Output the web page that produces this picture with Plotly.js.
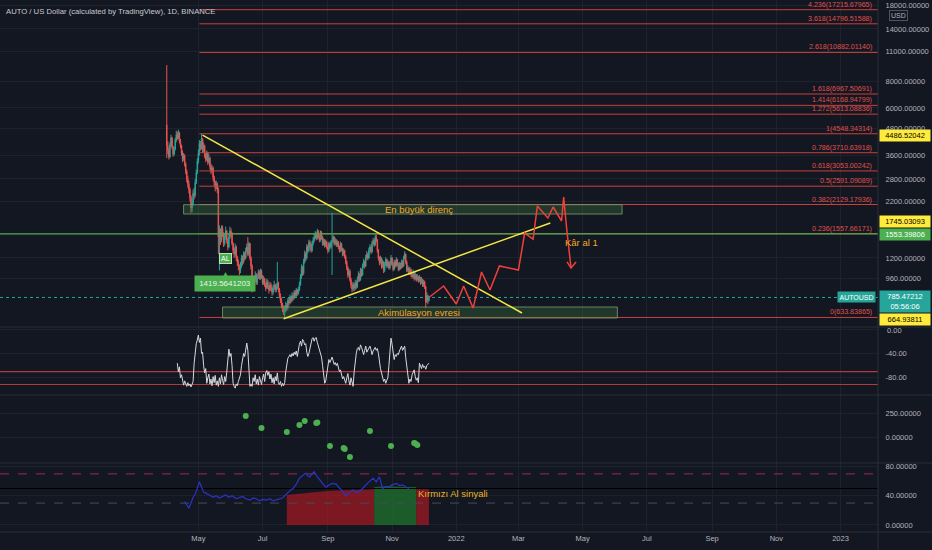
<!DOCTYPE html>
<html><head><meta charset="utf-8">
<script src="https://cdn.plot.ly/plotly-3.0.1.min.js"></script>
<style>html,body{margin:0;padding:0;background:#131722;}#c{width:932px;height:550px;}</style>
</head><body><div id="c"></div>
<script>
// ---------- DATA ----------
const startDate = '2021-04-01';
const candleOpen = [
5000,4000,3800,3550,4050,4350,3950,3650,3850,4250,
4500,4350,4600,4200,4000,3700,3450,3600,3300,3050,
2800,2650,2500,2300,2050,2150,2400,2350,2700,3000,
3400,3700,4100,3900,4300,3800,4000,3600,3450,3700,
3350,3500,3200,3050,3150,2850,2700,2550,2650,2500,
1500,1600,1450,1650,1550,1400,1500,1600,1450,1350,
1500,1600,1550,1400,1300,1250,1350,1200,1150,1100,
1050,1100,1200,1150,1250,1200,1300,1350,1250,1400,
1200,1100,950,880,950,1000,920,980,1030,970,
1040,980,920,960,900,870,930,880,850,900,
860,830,870,900,850,880,920,850,800,760,
720,700,680,690,720,700,760,740,790,760,
800,780,830,800,850,820,850,900,980,1080,
1020,1150,1250,1200,1350,1300,1420,1380,1300,1400,
1450,1500,1550,1480,1600,1520,1450,1580,1500,1400,
1450,1380,1420,1350,1300,1400,1350,1420,1450,1500,
1400,1450,1380,1420,1350,1300,1400,1320,1250,1300,
1220,1150,1080,1000,1040,950,900,860,900,870,
920,880,950,1000,950,1050,1000,1100,1150,1100,
1200,1250,1200,1300,1350,1280,1400,1450,1380,1500,
1450,1300,1200,1150,1200,1100,1150,1050,1120,1180,
1100,1150,1080,1130,1200,1120,1060,1150,1100,1180,
1120,1060,1120,1080,1150,1100,1200,1250,1150,1050,
1080,1020,1060,1000,980,1030,960,1000,950,980,
940,970,920,950,900,930,880,750,800,760];
const candleHigh = [
9500,4200,3900,4150,4500,4400,4000,3950,4350,4700,
4650,4750,4650,4300,4050,3800,3700,3650,3350,3100,
2900,2750,2550,2350,2250,2500,2550,2800,3100,3500,
3850,4250,4200,4548,4350,4150,4050,3700,3800,3750,
3650,3550,3300,3250,3200,2900,2750,2750,2700,2550,
1700,1650,1700,1700,1580,1560,1680,1620,1480,1560,
1680,1650,1580,1420,1340,1400,1370,1230,1180,1120,
1150,1240,1230,1290,1280,1340,1400,1500,1430,1410,
1220,1120,970,980,1040,1020,1010,1060,1050,1070,
1060,1000,990,970,920,960,950,900,930,920,
880,900,940,910,910,1150,930,870,820,780,
740,720,720,750,740,780,780,810,800,830,
820,850,850,870,860,880,930,1010,1120,1100,
1190,1300,1280,1390,1380,1460,1450,1400,1440,1500,
1550,1600,1580,1640,1620,1540,1610,1600,1520,1480,
1470,1460,1440,1370,1430,1420,1450,1950,1540,1520,
1490,1470,1450,1440,1370,1430,1410,1340,1330,1310,
1240,1170,1100,1070,1060,970,920,930,920,950,
940,980,1040,1020,1080,1070,1130,1190,1170,1240,
1290,1270,1340,1390,1370,1440,1490,1470,1540,1540,
1470,1320,1220,1230,1210,1180,1160,1150,1210,1190,
1180,1160,1160,1240,1210,1140,1180,1170,1210,1190,
1140,1150,1140,1180,1170,1230,1290,1260,1170,1110,
1090,1090,1070,1020,1060,1040,1030,1010,1010,990,
1000,980,980,960,950,940,890,830,810,800];
const candleLow = [
3500,3650,3450,3500,3950,3850,3550,3600,3800,4150,
4250,4300,4100,3900,3600,3350,3400,3200,2950,2700,
2550,2400,2200,1950,1960,2100,2250,2300,2650,2950,
3300,3600,3800,3850,3700,3700,3500,3350,3400,3250,
3300,3100,2950,3000,2750,2600,2450,2500,2400,1250,
1050,1380,1420,1500,1350,1370,1460,1400,1300,1330,
1470,1500,1370,1250,1200,1220,1160,1100,1050,1000,
1020,1080,1110,1130,1170,1180,1270,1220,1230,1170,
1060,830,840,860,930,900,900,960,950,950,
960,900,900,880,840,860,860,820,840,840,
800,810,850,830,830,860,830,780,740,700,
670,650,634,670,680,690,720,730,740,750,
760,770,780,790,800,810,840,890,960,990,
1000,1130,1160,1180,1260,1280,1340,1270,1280,1370,
1420,1470,1450,1460,1480,1420,1430,1460,1370,1370,
1340,1350,1320,1260,1280,1320,1330,1000,1420,1370,
1380,1350,1350,1320,1270,1280,1290,1220,1230,1190,
1120,1050,970,980,930,870,830,840,840,850,
860,870,930,930,940,980,990,1080,1070,1090,
1180,1170,1190,1280,1250,1270,1380,1350,1370,1420,
1270,1170,1110,1130,1070,1080,1020,1030,1100,1080,
1080,1060,1060,1110,1100,1040,1050,1080,1090,1100,
1040,1050,1060,1070,1080,1090,1180,1120,1030,1030,
1000,1000,980,960,970,940,950,930,940,920,
930,900,910,880,880,860,700,740,730,750];
const candleClose = [
4000,3800,3550,4050,4350,3950,3650,3850,4250,4500,
4350,4600,4200,4000,3700,3450,3600,3300,3050,2800,
2650,2500,2300,2050,2150,2400,2350,2700,3000,3400,
3700,4100,3900,4300,3800,4000,3600,3450,3700,3350,
3500,3200,3050,3150,2850,2700,2550,2650,2500,1500,
1600,1450,1650,1550,1400,1500,1600,1450,1350,1500,
1600,1550,1400,1300,1250,1350,1200,1150,1100,1050,
1100,1200,1150,1250,1200,1300,1350,1250,1400,1200,
1100,950,880,950,1000,920,980,1030,970,1040,
980,920,960,900,870,930,880,850,900,860,
830,870,900,850,880,920,850,800,760,720,
700,680,690,720,700,760,740,790,760,800,
780,830,800,850,820,850,900,980,1080,1020,
1150,1250,1200,1350,1300,1420,1380,1300,1400,1450,
1500,1550,1480,1600,1520,1450,1580,1500,1400,1450,
1380,1420,1350,1300,1400,1350,1420,1450,1500,1400,
1450,1380,1420,1350,1300,1400,1320,1250,1300,1220,
1150,1080,1000,1040,950,900,860,900,870,920,
880,950,1000,950,1050,1000,1100,1150,1100,1200,
1250,1200,1300,1350,1280,1400,1450,1380,1500,1450,
1300,1200,1150,1200,1100,1150,1050,1120,1180,1100,
1150,1080,1130,1200,1120,1060,1150,1100,1180,1120,
1060,1120,1080,1150,1100,1200,1250,1150,1050,1080,
1020,1060,1000,980,1030,960,1000,950,980,940,
970,920,950,900,930,880,750,800,760,785];

// Fibonacci levels
const fibRatios = ['4.236','3.618','2.618','1.618','1.414','1.272','1','0.786','0.618','0.5','0.382','0.236','0'];
const fibPrices = [17215.67965,14796.51588,10882.01140,6967.50691,6168.94799,5613.08836,4548.34314,3710.63918,3053.00242,2591.09089,2129.17936,1557.66171,633.83865];
const fibStartDay = 31;

// Drawn lines (day offsets from startDate, prices)
const descTrendDays = [34, 337.4];
const descTrendPrices = [4486.52042, 664.93811];
const ascTrendDays = [111, 364.3];
const ascTrendPrices = [625, 1745.03093];
const greenLevel = 1553.39806;
const lastPrice = 785.47212;
const projDays = [249,263,275,282,291,299,307,316,334,340,348,352,362,367,375,377,380,384];
const projPrices = [785,888,732,888,701,1032,851,1101,1054,1568,1470,2096,1842,2073,1784,2308,1619,1077];
const arrowDays = [380.2,384,388.8];
const arrowPrices = [1150,1077,1150];
const resistBoxDays = [16, 432.5];
const resistBoxPrices = [1923, 2125];
const accumBoxDays = [53, 428];
const accumBoxPrices = [630, 709];

// Oscillator (pane 2)
const oscStartDay = 10;
const oscValues = [
-56,-70,-62,-80,-75,-88,-92,-85,-90,-94,
-88,-93,-90,-95,-91,-86,-56,-35,-24,-18,
-10,-22,-15,-40,-38,-60,-72,-65,-89,-80,
-74,-90,-82,-93,-78,-88,-76,-92,-85,-94,
-80,-90,-75,-84,-91,-78,-86,-70,-55,-33,
-45,-40,-60,-89,-94,-97,-90,-93,-86,-80,
-75,-60,-50,-40,-45,-30,-23,-35,-70,-94,
-90,-94,-80,-86,-75,-90,-82,-92,-78,-85,
-91,-80,-74,-86,-72,-68,-76,-70,-82,-74,
-88,-80,-90,-78,-85,-72,-88,-91,-86,-94,
-89,-93,-88,-70,-55,-48,-45,-42,-46,-40,
-44,-38,-42,-36,-45,-30,-25,-20,-28,-17,
-20,-26,-24,-38,-45,-40,-30,-22,-16,-14,
-20,-15,-14,-22,-28,-30,-38,-46,-60,-80,
-89,-85,-70,-60,-50,-55,-48,-46,-52,-58,
-55,-60,-56,-64,-70,-67,-75,-82,-78,-86,
-89,-80,-73,-85,-92,-80,-88,-94,-70,-50,
-40,-32,-30,-35,-26,-30,-38,-42,-35,-28,
-38,-34,-30,-28,-34,-42,-36,-32,-30,-35,
-32,-40,-55,-65,-72,-80,-86,-82,-89,-84,
-80,-60,-35,-15,-25,-44,-50,-42,-45,-40,
-42,-36,-32,-28,-35,-30,-28,-47,-60,-80,
-89,-82,-86,-75,-70,-67,-78,-84,-80,-88,
-56,-62,-65,-58,-63,-61,-66,-60,-58,-56];
const oscLevels = [-70, -91];

// Dots (pane 3)
const dotDays = [75,90,114,126,131,142,143,155,168,169,174,193,213,235,236,238];
const dotValues = [222,99,58,130,171,151,155,-85,-105,-115,-198,69,-85,-54,-60,-75];

// Bottom pane
const blueDays = [17,19,21,23,25,27,29,31,33,35,38,41,44,47,50,53,56,59,62,66,69,72,75,79,82,85,88,91,95,98,101,104,107,110,112,114,117,120,123,126,129,132,134,136,138,140,142,145,148,151,154,157,161,163,166,170,173,177,180,183,186,189,192,196,199,202,205,208,211,214,218,221,224,227,230];
const blueValues = [32,27,23,30,38,42,50,59,52,45,43,41,38,40,37,39,41,38,40,36,38,39,36,34,37,36,33,35,34,36,33,34,35,37,40,43,47,50,56,64,68,71,67,66,70,73,68,62,57,52,55,57,56,52,48,40,44,48,44,46,50,55,59,64,59,66,50,53,52,55,57,54,55,52,50];
const redArea1Days = [114,125,140,155,170,185,197];
const redArea1Values = [41,43,45,47,48,48,49];
const greenAreaDays = [197,210,225,237];
const greenAreaValues = [52,53,52,52];
const redArea2Days = [237,249];
const redArea2Values = [49,49];
const bottomLevels = {red:70, black:50, gray:30};

// Axis ticks
const priceTicks = [18000,14000,11000,8000,6000,4800,3600,2800,2200,1200,960];
const oscTicks = [0,-40,-80];
const dotTicks = [250,0];
const bottomTicks = [80,40,0];
const timeTicks = ['2021-05-01','2021-07-01','2021-09-01','2021-11-01','2022-01-01','2022-03-01','2022-05-01','2022-07-01','2022-09-01','2022-11-01','2023-01-01'];
const timeTickText = ['May','Jul','Sep','Nov','2022','Mar','May','Jul','Sep','Nov','2023'];
const xRange = ['2020-10-24 14:00','2023-02-05 14:00'];

// ---------- BUILD ----------
function dayStr(d){
  const base = Date.parse(startDate+'T00:00:00Z');
  const ms = base + Math.round(d*24)*3600000;
  return new Date(ms).toISOString().slice(0,16).replace('T',' ');
}
const L = Math.log10;
const BG = '#131722', GRID = '#1e222d', SEP = '#2a2e39', TXT = '#b2b5be';
const FONT = 'Liberation Sans, Arial, sans-serif';
const FIBC = '#c8403c';

const traces = [];
fibPrices.forEach(p => traces.push({type:'scatter',mode:'lines',x:[dayStr(fibStartDay), xRange[1]],y:[p,p],line:{color:FIBC,width:1},yaxis:'y',hoverinfo:'skip'}));
traces.push({type:'scatter',mode:'lines',x:xRange,y:[greenLevel,greenLevel],line:{color:'#4caf50',width:1.2},hoverinfo:'skip'});
traces.push({type:'scatter',mode:'lines',x:xRange,y:[lastPrice,lastPrice],line:{color:'#26a69a',width:1,dash:'dot'},hoverinfo:'skip'});
traces.push({type:'candlestick',x:candleClose.map((_,i)=>dayStr(i)),open:candleOpen,high:candleHigh,low:candleLow,close:candleClose,
  increasing:{line:{color:'#26a69a',width:1},fillcolor:'#26a69a'},decreasing:{line:{color:'#ef5350',width:1},fillcolor:'#ef5350'},
  whiskerwidth:0,hoverinfo:'skip',yaxis:'y'});
function box(days, prices){
  const x0=dayStr(days[0]), x1=dayStr(days[1]);
  return {type:'scatter',mode:'lines',x:[x0,x1,x1,x0,x0],y:[prices[0],prices[0],prices[1],prices[1],prices[0]],fill:'toself',
    fillcolor:'rgba(67,140,70,0.28)',line:{color:'rgba(120,150,110,0.85)',width:1},hoverinfo:'skip'};
}
traces.push(box(resistBoxDays,resistBoxPrices));
traces.push(box(accumBoxDays,accumBoxPrices));
traces.push({type:'scatter',mode:'lines',x:descTrendDays.map(dayStr),y:descTrendPrices,line:{color:'#f3e742',width:1.5},hoverinfo:'skip'});
traces.push({type:'scatter',mode:'lines',x:ascTrendDays.map(dayStr),y:ascTrendPrices,line:{color:'#f3e742',width:1.5},hoverinfo:'skip'});
traces.push({type:'scatter',mode:'lines',x:projDays.map(dayStr),y:projPrices,line:{color:'#f0403a',width:1.5},hoverinfo:'skip'});
traces.push({type:'scatter',mode:'lines',x:arrowDays.map(dayStr),y:arrowPrices,line:{color:'#f0403a',width:1.5},hoverinfo:'skip'});

oscLevels.forEach(v => traces.push({type:'scatter',mode:'lines',x:xRange,y:[v,v],line:{color:'#b23a3a',width:1.2},yaxis:'y2',hoverinfo:'skip'}));
traces.push({type:'scatter',mode:'lines',x:oscValues.map((_,i)=>dayStr(oscStartDay+i)),y:oscValues,line:{color:'#d8d9de',width:1},yaxis:'y2',hoverinfo:'skip'});

traces.push({type:'scatter',mode:'markers',x:dotDays.map(dayStr),y:dotValues,marker:{color:'#4caf50',size:6},yaxis:'y3',hoverinfo:'skip'});

traces.push({type:'scatter',mode:'lines',x:redArea1Days.map(dayStr),y:redArea1Values,fill:'tozeroy',fillcolor:'rgba(160,25,35,0.75)',line:{width:0,color:'rgba(0,0,0,0)'},yaxis:'y4',hoverinfo:'skip'});
traces.push({type:'scatter',mode:'lines',x:greenAreaDays.map(dayStr),y:greenAreaValues,fill:'tozeroy',fillcolor:'rgba(30,110,45,0.8)',line:{width:0,color:'rgba(0,0,0,0)'},yaxis:'y4',hoverinfo:'skip'});
traces.push({type:'scatter',mode:'lines',x:redArea2Days.map(dayStr),y:redArea2Values,fill:'tozeroy',fillcolor:'rgba(160,25,35,0.75)',line:{width:0,color:'rgba(0,0,0,0)'},yaxis:'y4',hoverinfo:'skip'});
traces.push({type:'scatter',mode:'lines',x:xRange,y:[bottomLevels.red,bottomLevels.red],line:{color:'#9a2c4c',width:1,dash:'dash'},yaxis:'y4',hoverinfo:'skip'});
traces.push({type:'scatter',mode:'lines',x:xRange,y:[bottomLevels.black,bottomLevels.black],line:{color:'#000000',width:1.2},yaxis:'y4',hoverinfo:'skip'});
traces.push({type:'scatter',mode:'lines',x:xRange,y:[bottomLevels.gray,bottomLevels.gray],line:{color:'#474c59',width:1,dash:'dash'},yaxis:'y4',hoverinfo:'skip'});
traces.push({type:'scatter',mode:'lines',x:blueDays.map(dayStr),y:blueValues,line:{color:'#2b34c8',width:1.2},yaxis:'y4',hoverinfo:'skip'});

const fmt5 = v => v.toFixed(5);
const fmt2 = v => v.toFixed(2);
const tickFont = {family:FONT,size:7.5,color:TXT};
const yBase = {side:'right',anchor:'x',gridcolor:GRID,gridwidth:1,zeroline:false,showline:false,ticks:'outside',ticklen:5,tickcolor:'rgba(0,0,0,0)',tickfont:tickFont,tickmode:'array',ticklabeloverflow:'allow',fixedrange:true};

const ann = [];
ann.push({xref:'paper',yref:'paper',x:0,y:1,xanchor:'left',yanchor:'top',xshift:4,yshift:-5,showarrow:false,text:'AUTO / US Dollar (calculated by TradingView), 1D, BINANCE',font:{family:FONT,size:7.7,color:'#c8cad2'}});
fibPrices.forEach((p,i)=>ann.push({xref:'paper',x:1,xanchor:'right',xshift:-4,yref:'y',y:L(p),yanchor:'bottom',yshift:-1,showarrow:false,text:fibRatios[i]+'('+fmt5(p)+')',font:{family:FONT,size:7.1,color:'#e0504c'}}));
ann.push({x:dayStr(239.6),y:L(2010),xref:'x',yref:'y',showarrow:false,text:'En büyük direnç',font:{family:FONT,size:9.5,color:'#f4a72a'}});
ann.push({x:dayStr(239.6),y:L(667),xref:'x',yref:'y',showarrow:false,text:'Akimülasyon evresi',font:{family:FONT,size:9.5,color:'#f4a72a'}});
ann.push({x:dayStr(394),y:L(1409),xref:'x',yref:'y',showarrow:false,text:'Kâr al 1',font:{family:FONT,size:9.5,color:'#f4a72a'}});
ann.push({x:dayStr(271.7),y:43.8,xref:'x',yref:'y4',showarrow:false,text:'Kırmızı Al sinyali',font:{family:FONT,size:9.5,color:'#e9b526'}});
ann.push({x:dayStr(55.7),y:L(1187),xref:'x',yref:'y',showarrow:false,text:'AL',bgcolor:'#4caf50',bordercolor:'#b9e0bb',borderwidth:1,borderpad:1,font:{family:FONT,size:7,color:'#ffffff'}});
ann.push({x:dayStr(55.7),y:L(1015),xref:'x',yref:'y',showarrow:false,text:'▲',font:{family:FONT,size:7,color:'#4caf50'}});
ann.push({x:dayStr(55.7),y:L(912),xref:'x',yref:'y',showarrow:false,text:'1419.5641203',bgcolor:'#4caf50',borderpad:3,width:54,align:'center',font:{family:FONT,size:8,color:'#e8f5e9'}});
function tag(price, text, bg, fg, shift){
  ann.push({xref:'paper',x:1,xanchor:'left',xshift:1,yref:'y',y:L(price),yshift:shift||0,showarrow:false,text:text,bgcolor:bg,width:48,align:'center',borderpad:1,font:{family:FONT,size:7.5,color:fg}});
}
tag(4486.52042,'4486.52042','#ffeb3b','#000000');
tag(1745.03093,'1745.03093','#ffeb3b','#000000',2);
tag(greenLevel,'1553.39806','#4caf50','#ffffff',-1);
tag(lastPrice,'785.47212<br>05:56:06','#26a69a','#ffffff',-4);
tag(664.93811,'664.93811','#ffeb3b','#000000',-7);
ann.push({xref:'paper',x:1,xanchor:'right',xshift:-2,yref:'y',y:L(lastPrice),showarrow:false,text:'AUTOUSD',bgcolor:'#26a69a',borderpad:1.5,font:{family:FONT,size:7,color:'#ffffff'}});
ann.push({xref:'paper',yref:'paper',x:908/878,y:1-10/532,showarrow:false,text:'USD',bgcolor:BG,bordercolor:'#50535e',borderwidth:1,borderpad:1,font:{family:FONT,size:7,color:TXT}});
ann.push({xref:'paper',x:1,xanchor:'left',xshift:7,yref:'y2',y:oscTicks[0],yanchor:'middle',yshift:-1,showarrow:false,text:fmt2(oscTicks[0]),font:tickFont});

const shapes = [];
[0.3853,0.2575,0.1297,0].forEach(v=>shapes.push({type:'line',xref:'paper',yref:'paper',x0:0,x1:1.07,y0:v,y1:v,line:{color:SEP,width:1}}));
shapes.push({type:'line',xref:'paper',yref:'paper',x0:1,x1:1,y0:-0.04,y1:1,line:{color:SEP,width:1}});

const layout = {
  width:932,height:550,margin:{l:0,r:54,t:0,b:18},
  paper_bgcolor:BG,plot_bgcolor:BG,showlegend:false,hovermode:false,dragmode:false,
  font:{family:FONT,color:TXT},
  xaxis:{type:'date',range:xRange,anchor:'y4',rangeslider:{visible:false},tickmode:'array',tickvals:timeTicks,ticktext:timeTickText,
    tickfont:{family:FONT,size:7.5,color:TXT},gridcolor:GRID,showline:false,zeroline:false,ticks:'',fixedrange:true},
  yaxis:Object.assign({},yBase,{domain:[0.3853,1],type:'log',range:[2.7574,4.2811],tickvals:priceTicks,ticktext:priceTicks.map(fmt5)}),
  yaxis2:Object.assign({},yBase,{domain:[0.2575,0.3853],range:[-108.2,3.3],tickvals:oscTicks,ticktext:oscTicks.map((v,i)=>i===0?'':fmt2(v))}),
  yaxis3:Object.assign({},yBase,{domain:[0.1297,0.2575],range:[-259,437.7],tickvals:dotTicks,ticktext:dotTicks.map(fmt5)}),
  yaxis4:Object.assign({},yBase,{domain:[0,0.1297],range:[-9.6,84.9],tickvals:bottomTicks,ticktext:bottomTicks.map(fmt5)}),
  annotations:ann,shapes:shapes
};
Plotly.newPlot('c',traces,layout,{displayModeBar:false,staticPlot:true});
</script></body></html>
